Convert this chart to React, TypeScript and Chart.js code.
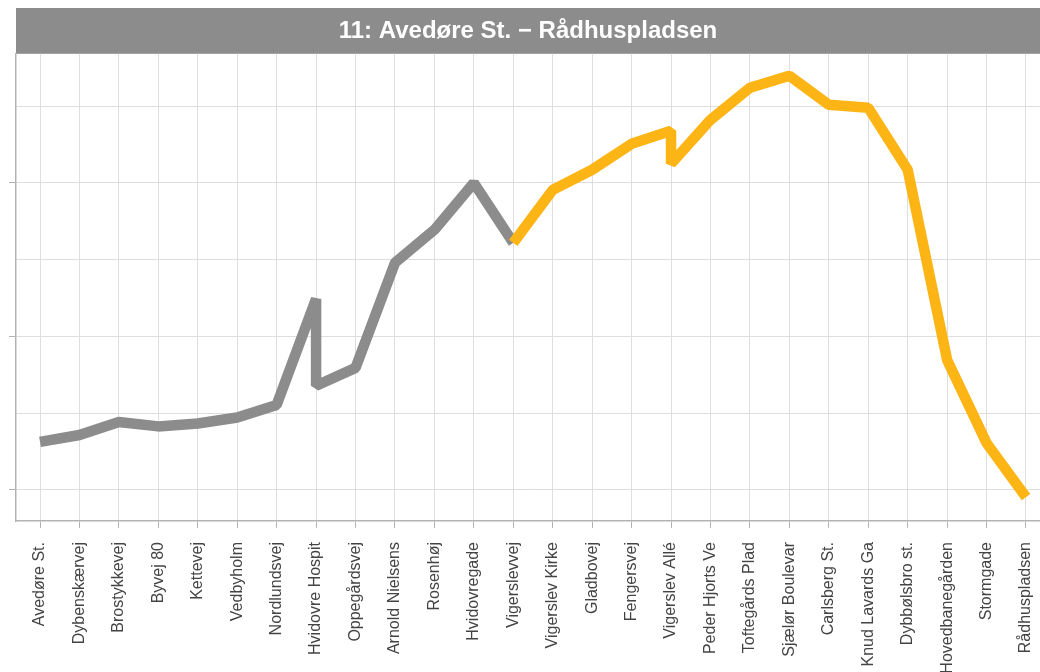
import React, { useEffect, useRef } from "react";
import { Chart, registerables } from "chart.js";

Chart.register(...registerables);

const TITLE = "11: Avedøre St. − Rådhuspladsen";

const stops = [
  "Avedøre St.",
  "Dybenskærvej",
  "Brostykkevej",
  "Byvej 80",
  "Kettevej",
  "Vedbyholm",
  "Nordlundsvej",
  "Hvidovre Hospit",
  "Oppegårdsvej",
  "Arnold Nielsens",
  "Rosenhøj",
  "Hvidovregade",
  "Vigerslevvej",
  "Vigerslev Kirke",
  "Gladbovej",
  "Fengersvej",
  "Vigerslev Allé",
  "Peder Hjorts Ve",
  "Toftegårds Plad",
  "Sjælør Boulevar",
  "Carlsberg St.",
  "Knud Lavards Ga",
  "Dybbølsbro st.",
  "Hovedbanegården",
  "Stormgade",
  "Rådhuspladsen",
];

// First part of the route (grey)
const grayX = [0, 1, 2, 3, 4, 5, 6, 7, 7, 8, 9, 10, 11, 12];
const grayY = [0.313, 0.358, 0.443, 0.414, 0.433, 0.472, 0.554, 1.244, 0.678, 0.795, 1.479, 1.694, 2.0, 1.609];

// Second part of the route (orange)
const orangeX = [12, 13, 14, 15, 16, 16, 17, 18, 19, 20, 21, 22, 23, 24, 25];
const orangeY = [1.609, 1.954, 2.085, 2.254, 2.339, 2.124, 2.41, 2.619, 2.697, 2.508, 2.489, 2.085, 0.847, 0.306, -0.046];

const yGrid = [0, 0.5, 1, 1.5, 2, 2.5];
const yMajor = [0, 1, 2];

const GRAY = "#8c8c8c";
const ORANGE = "#fdb515";
const GRID = "#dedede";
const AXIS = "#b3b3b3";

const stripPlugin = {
  id: "strip",
  beforeDraw(chart: any) {
    const t = chart.titleBlock;
    const { ctx, chartArea } = chart;
    if (!t) return;
    ctx.save();
    ctx.fillStyle = GRAY;
    ctx.fillRect(chartArea.left, t.top, chartArea.right - chartArea.left, t.height);
    ctx.restore();
  },
};

export default function App() {
  const ref = useRef<HTMLCanvasElement>(null);

  useEffect(() => {
    if (!ref.current) return;
    const chart = new Chart(ref.current, {
      type: "line",
      data: {
        datasets: [
          {
            data: orangeX.map((x, i) => ({ x, y: orangeY[i] })),
            borderColor: ORANGE,
            borderWidth: 10.5,
            pointRadius: 0,
            tension: 0,
            borderCapStyle: "butt",
            borderJoinStyle: "bevel",
            order: 1,
          },
          {
            data: grayX.map((x, i) => ({ x, y: grayY[i] })),
            borderColor: GRAY,
            borderWidth: 10.5,
            pointRadius: 0,
            tension: 0,
            borderCapStyle: "butt",
            borderJoinStyle: "bevel",
            order: 2,
          },
        ],
      },
      options: {
        animation: false,
        responsive: true,
        maintainAspectRatio: false,
        layout: { padding: { top: 8, left: 0, right: 0, bottom: 0 } },
        plugins: {
          legend: { display: false },
          tooltip: { enabled: false },
          title: {
            display: true,
            text: TITLE,
            fullSize: false,
            color: "#ffffff",
            font: { family: "'Liberation Sans', Arial, sans-serif", size: 24, weight: "bold" },
            padding: { top: 9, bottom: 8 },
          },
        },
        scales: {
          x: {
            type: "linear",
            min: -0.6086,
            max: 25.355,
            afterBuildTicks: (scale: any) => {
              scale.ticks = stops.map((_, i) => ({ value: i }));
            },
            afterFit: (scale: any) => {
              scale.height = 151;
              scale.paddingLeft = 0;
              scale.paddingRight = 0;
            },
            grid: {
              color: GRID,
              lineWidth: 1,
              tickLength: 7,
              tickColor: AXIS,
            },
            border: { display: true, color: AXIS, width: 1.5 },
            ticks: {
              autoSkip: false,
              maxRotation: 90,
              minRotation: 90,
              padding: 14,
              color: "#444444",
              font: { family: "'Liberation Sans', Arial, sans-serif", size: 16 },
              callback: (v: any) => stops[v] ?? "",
            },
          },
          y: {
            type: "linear",
            min: -0.202,
            max: 2.84,
            afterBuildTicks: (scale: any) => {
              scale.ticks = yGrid.map((v) => ({ value: v }));
            },
            afterFit: (scale: any) => {
              scale.width = 16;
              scale.paddingTop = 0;
              scale.paddingBottom = 0;
            },
            grid: {
              color: GRID,
              lineWidth: 1,
              tickLength: 7,
              tickColor: (ctx: any) =>
                ctx.tick && yMajor.includes(ctx.tick.value) ? AXIS : "rgba(0,0,0,0)",
            },
            border: { display: true, color: AXIS, width: 1.5 },
            ticks: { display: false },
          },
        },
      },
      plugins: [stripPlugin],
    });
    return () => chart.destroy();
  }, []);

  return (
    <div style={{ position: "absolute", left: 0, top: 0, width: 1040, height: 672 }}>
      <canvas ref={ref} />
    </div>
  );
}
